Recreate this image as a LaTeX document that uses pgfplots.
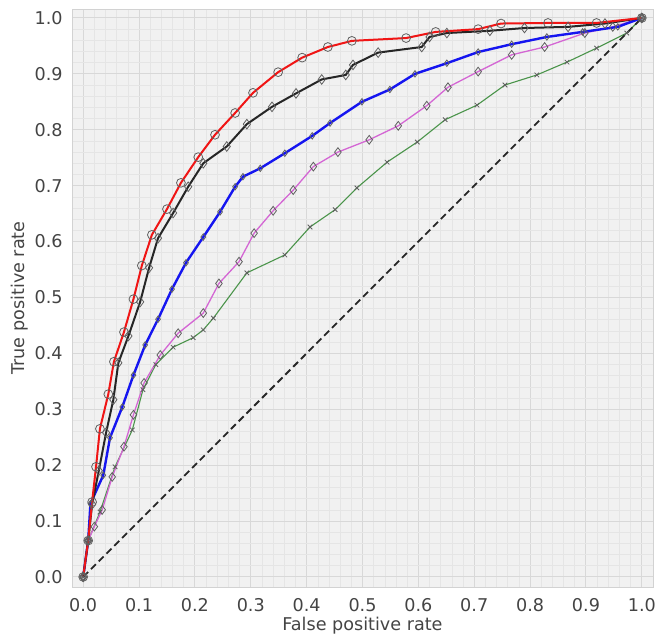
\documentclass[border=0pt]{standalone}
\usepackage{pgfplots}
\pgfplotsset{compat=1.18}
\usepackage{fontspec}
\setmainfont{DejaVu Sans}
\usetikzlibrary{calc}

\definecolor{bgc}{HTML}{F1F1F1}
\definecolor{gridmaj}{HTML}{D8D8D8}
\definecolor{gridmin}{HTML}{E5E5E5}
\definecolor{txt}{HTML}{444444}
\definecolor{mkedge}{HTML}{606060}
\definecolor{cred}{HTML}{F01515}
\definecolor{cblue}{HTML}{1515F0}
\definecolor{cmag}{HTML}{D466D4}
\definecolor{cgreen}{HTML}{4A944A}

\begin{document}
\begin{tikzpicture}
\begin{axis}[
  scale only axis, width=290.5pt, height=289pt,
  xmin=-0.02, xmax=1.02, ymin=-0.018, ymax=1.016,
  xtick={0,0.1,...,1.0}, ytick={0,0.1,...,1.0},
  minor tick num=4,
  major tick length=0pt, minor tick length=0pt,
  grid=both,
  major grid style={gridmaj, line width=0.5pt},
  minor grid style={gridmin, line width=0.3pt},
  axis background/.style={fill=bgc},
  axis line style={draw=gray!35, line width=0.4pt},
  /pgf/number format/assume math mode=true,
  /pgf/number format/.cd, fixed, fixed zerofill, precision=1, /pgfplots/.cd,
  every tick label/.append style={font=\fontsize{8.8}{10}\selectfont, text=txt},
  xticklabel style={anchor=center, yshift=-9pt},
  yticklabel style={anchor=east, inner sep=0pt, xshift=-4.5pt},
  xlabel={False positive rate}, ylabel={True positive rate},
  label style={font=\fontsize{8.8}{10}\selectfont, text=txt},
  xlabel style={at={(axis description cs:0.5,-0.066)}, anchor=center},
  ylabel style={at={(axis description cs:-0.0895,0.5)}, anchor=center},
  clip=false,
]
\coordinate (bl) at (rel axis cs:0,0);
\coordinate (tr) at (rel axis cs:1,1);

% green
\addplot[cgreen, line width=0.55pt, mark=x, mark size=1.6pt,
  mark options={draw=mkedge, line width=0.4pt}] coordinates {
(0,0) (0.009,0.065) (0.03,0.116) (0.057,0.197) (0.088,0.263) (0.107,0.335)
(0.13,0.38) (0.161,0.411) (0.197,0.428) (0.215,0.442) (0.233,0.463)
(0.293,0.544) (0.361,0.576) (0.406,0.626) (0.451,0.657) (0.49,0.696)
(0.544,0.742) (0.598,0.778) (0.648,0.818) (0.705,0.844) (0.755,0.88)
(0.812,0.898) (0.866,0.921) (0.919,0.946) (0.973,0.973) (1,1)};

% magenta
\addplot[cmag, line width=0.65pt, mark=diamond, mark size=2.2pt,
  mark options={draw=mkedge, line width=0.4pt, fill=cmag!60}] coordinates {
(0,0) (0.009,0.065) (0.02,0.09) (0.034,0.12) (0.052,0.179) (0.073,0.233)
(0.09,0.29) (0.109,0.347) (0.138,0.397) (0.17,0.436) (0.215,0.472)
(0.243,0.525) (0.279,0.564) (0.306,0.615) (0.34,0.655) (0.376,0.692)
(0.412,0.734) (0.456,0.76) (0.512,0.782) (0.564,0.807) (0.615,0.843)
(0.653,0.876) (0.707,0.904) (0.767,0.934) (0.826,0.948) (0.898,0.973)
(0.948,0.984) (1,1)};

% blue
\addplot[cblue, line width=1.2pt, mark=diamond, mark size=1.6pt,
  mark options={draw=mkedge, line width=0.4pt}] coordinates {
(0,0) (0.009,0.065) (0.013,0.131) (0.036,0.182) (0.048,0.249) (0.07,0.304)
(0.09,0.361) (0.111,0.415) (0.134,0.461) (0.159,0.515) (0.184,0.562)
(0.215,0.608) (0.245,0.653) (0.272,0.698) (0.286,0.716) (0.317,0.731)
(0.361,0.758) (0.41,0.789) (0.442,0.812) (0.499,0.85) (0.549,0.872)
(0.594,0.9) (0.651,0.919) (0.707,0.939) (0.767,0.953) (0.83,0.966)
(0.894,0.975) (0.957,0.984) (1,1)};

% black
\addplot[black!85, line width=1pt, mark=diamond, mark size=2.4pt,
  mark options={draw=mkedge, line width=0.4pt}] coordinates {
(0,0) (0.009,0.065) (0.016,0.13) (0.028,0.19) (0.041,0.258) (0.054,0.317)
(0.063,0.383) (0.081,0.431) (0.102,0.492) (0.118,0.553) (0.134,0.606)
(0.161,0.651) (0.188,0.698) (0.215,0.74) (0.257,0.77) (0.293,0.81)
(0.338,0.841) (0.381,0.865) (0.427,0.89) (0.47,0.898) (0.483,0.916)
(0.528,0.938) (0.606,0.948) (0.62,0.966) (0.651,0.973) (0.728,0.977)
(0.79,0.982) (0.868,0.984) (0.934,0.99) (1,1)};

% red
\addplot[cred, line width=1pt, mark=o, mark size=2.2pt,
  mark options={draw=mkedge, line width=0.4pt}] coordinates {
(0,0) (0.009,0.065) (0.016,0.134) (0.023,0.197) (0.03,0.265) (0.045,0.327)
(0.055,0.385) (0.073,0.438) (0.09,0.497) (0.105,0.557) (0.123,0.612)
(0.15,0.658) (0.175,0.705) (0.206,0.751) (0.236,0.791) (0.272,0.83)
(0.304,0.866) (0.349,0.903) (0.392,0.929) (0.438,0.948) (0.481,0.959)
(0.578,0.964) (0.631,0.975) (0.707,0.98) (0.748,0.99) (0.832,0.991)
(0.919,0.991) (1,1)};

% chance line
\addplot[black!85, line width=0.9pt, dash pattern=on 3.5pt off 2pt] coordinates {(0,0) (1,1)};
\end{axis}
\pgfresetboundingbox
\path[use as bounding box] ($(bl)+(-36pt,-28pt)$) rectangle ($(tr)+(2.5pt,4.5pt)$);
\end{tikzpicture}
\end{document}
